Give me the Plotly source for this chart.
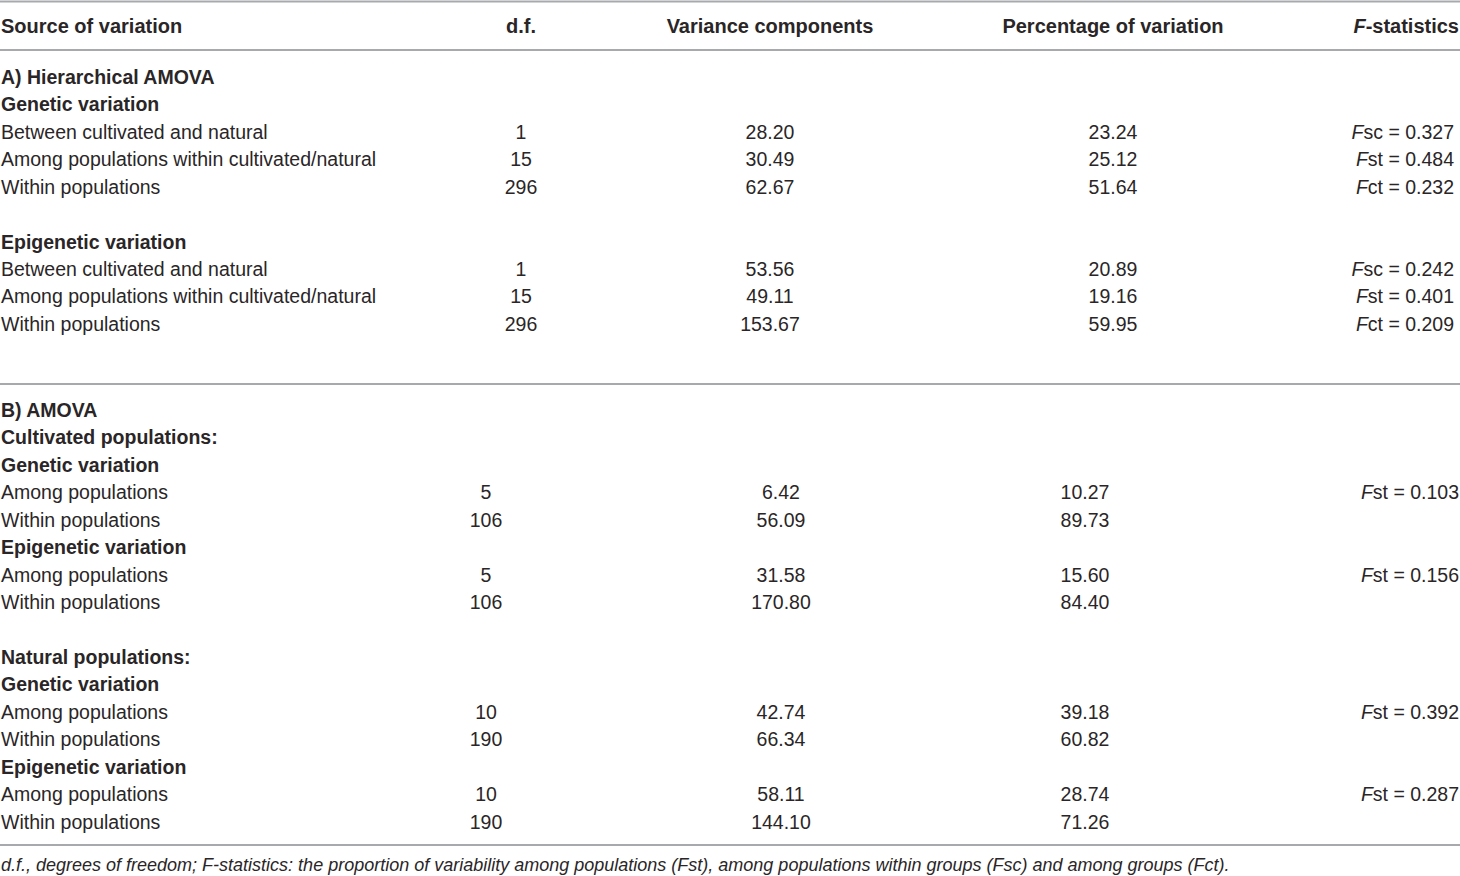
import plotly.graph_objects as go

# table values
source_a = [
    "A) Hierarchical AMOVA", "Genetic variation",
    "Between cultivated and natural", "Among populations within cultivated/natural", "Within populations",
    "", "Epigenetic variation",
    "Between cultivated and natural", "Among populations within cultivated/natural", "Within populations",
]
df_a = [None, None, 1, 15, 296, None, None, 1, 15, 296]
variance_a = [None, None, 28.20, 30.49, 62.67, None, None, 53.56, 49.11, 153.67]
percent_a = [None, None, 23.24, 25.12, 51.64, None, None, 20.89, 19.16, 59.95]
fstat_a = [None, None, "Fsc = 0.327", "Fst = 0.484", "Fct = 0.232",
           None, None, "Fsc = 0.242", "Fst = 0.401", "Fct = 0.209"]

source_b = [
    "B) AMOVA", "Cultivated populations:", "Genetic variation", "Among populations", "Within populations",
    "Epigenetic variation", "Among populations", "Within populations",
    "", "Natural populations:", "Genetic variation", "Among populations", "Within populations",
    "Epigenetic variation", "Among populations", "Within populations",
]
df_b = [None, None, None, 5, 106, None, 5, 106, None, None, None, 10, 190, None, 10, 190]
variance_b = [None, None, None, 6.42, 56.09, None, 31.58, 170.80,
              None, None, None, 42.74, 66.34, None, 58.11, 144.10]
percent_b = [None, None, None, 10.27, 89.73, None, 15.60, 84.40,
             None, None, None, 39.18, 60.82, None, 28.74, 71.26]
fstat_b = [None, None, None, "Fst = 0.103", None, None, "Fst = 0.156", None,
           None, None, None, "Fst = 0.392", None, None, "Fst = 0.287", None]

headers = ["Source of variation", "d.f.", "Variance components", "Percentage of variation", "<i>F</i>-statistics"]
footnote = ("d.f., degrees of freedom; F-statistics: the proportion of variability among populations (Fst), "
            "among populations within groups (Fsc) and among groups (Fct).")

# page geometry (pixels)
W, H = 1460, 876
ROW_H = 27.45
TOP_A = 79
TOP_B = 412
HEADER_Y = 28
RULES_Y = [1.5, 50, 384, 845]
FOOT_Y = 866

TEXT = "#2a2627"
RULE = "#a7a9ac"
FONT = "Liberation Sans, Arial, sans-serif"
BODY_SIZE = 19.5
HEAD_SIZE = 20
FOOT_SIZE = 18

# column anchors: section A and section B are set slightly differently
COLS_A = {"src": 1, "df": 521, "var": 770, "pct": 1113, "f": 1454}
COLS_B = {"src": 1, "df": 486, "var": 781, "pct": 1085, "f": 1459}


def fmt_f(s):
    return "<i>F</i>" + s[1:]


def section_traces(source, dfs, variances, percents, fstats, top, cols):
    ys = [top + ROW_H * i for i in range(len(source))]
    labels = []
    for s, d in zip(source, dfs):
        if s and d is None:
            labels.append("<b>" + s + "</b>")
        else:
            labels.append(s)
    traces = [
        go.Scatter(x=[cols["src"]] * len(ys), y=ys, text=labels, mode="text",
                   textposition="middle right"),
        go.Scatter(x=[cols["df"]] * len(ys), y=ys,
                   text=["" if d is None else str(d) for d in dfs],
                   mode="text", textposition="middle center"),
        go.Scatter(x=[cols["var"]] * len(ys), y=ys,
                   text=["" if v is None else f"{v:.2f}" for v in variances],
                   mode="text", textposition="middle center"),
        go.Scatter(x=[cols["pct"]] * len(ys), y=ys,
                   text=["" if p is None else f"{p:.2f}" for p in percents],
                   mode="text", textposition="middle center"),
        go.Scatter(x=[cols["f"]] * len(ys), y=ys,
                   text=["" if f is None else fmt_f(f) for f in fstats],
                   mode="text", textposition="middle left"),
    ]
    for tr in traces:
        tr.textfont = dict(size=BODY_SIZE, color=TEXT, family=FONT)
    return traces


fig = go.Figure()
for tr in section_traces(source_a, df_a, variance_a, percent_a, fstat_a, TOP_A, COLS_A):
    fig.add_trace(tr)
for tr in section_traces(source_b, df_b, variance_b, percent_b, fstat_b, TOP_B, COLS_B):
    fig.add_trace(tr)

# header row
head_x = [1, 521, 770, 1113, 1459]
head_pos = ["middle right", "middle center", "middle center", "middle center", "middle left"]
fig.add_trace(go.Scatter(x=head_x, y=[HEADER_Y] * 5, text=["<b>" + h + "</b>" for h in headers],
                         mode="text", textposition=head_pos,
                         textfont=dict(size=HEAD_SIZE, color=TEXT, family=FONT)))

# footnote
fig.add_trace(go.Scatter(x=[1], y=[FOOT_Y], text=["<i>" + footnote + "</i>"], mode="text",
                         textposition="middle right",
                         textfont=dict(size=FOOT_SIZE, color=TEXT, family=FONT)))

fig.update_traces(hoverinfo="skip", showlegend=False)

for y in RULES_Y:
    fig.add_shape(type="line", x0=0, x1=W, y0=y, y1=y, line=dict(color=RULE, width=2))

fig.update_layout(
    width=W, height=H,
    margin=dict(l=0, r=0, t=0, b=0),
    plot_bgcolor="white", paper_bgcolor="white",
    xaxis=dict(range=[0, W], visible=False, fixedrange=True),
    yaxis=dict(range=[H, 0], visible=False, fixedrange=True),
    showlegend=False,
)

# drop the default page margin so the figure sits at the window's corner
fig.write_html("out.html", config={"displayModeBar": False},
               post_script="document.body.style.margin='0';")
